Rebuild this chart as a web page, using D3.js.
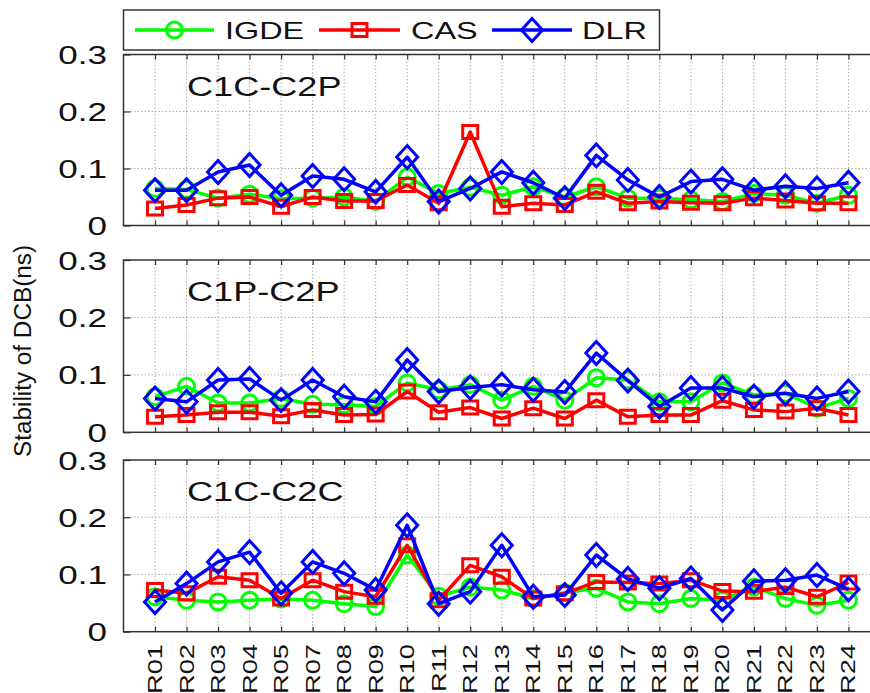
<!DOCTYPE html>
<html>
<head>
<meta charset="utf-8">
<script src="https://cdn.jsdelivr.net/npm/d3@7"></script>
<style>
html,body{margin:0;padding:0;background:#fff;}
svg{display:block;}
text{font-family:"Liberation Sans",Arial,Helvetica,sans-serif;fill:#111;}
</style>
</head>
<body>
<svg id="chart" width="870" height="693"></svg>
<script>
// ---------- data ----------
const categories = ["R01","R02","R03","R04","R05","R07","R08","R09","R10","R11","R12",
  "R13","R14","R15","R16","R17","R18","R19","R20","R21","R22","R23","R24"];
const seriesNames = ["IGDE","CAS","DLR"];
const panelNames = ["C1C-C2P","C1P-C2P","C1C-C2C"];
const yTicks = [0, 0.1, 0.2, 0.3];
const yTickLabels = ["0","0.1","0.2","0.3"];
const yTitle = "Stability of DCB(ns)";

// C1C-C2P
const igde1 = [.065,.063,.048,.055,.047,.048,.050,.042,.085,.056,.067,.053,.068,.050,.068,.048,.048,.045,.042,.056,.053,.039,.053];
const cas1  = [.030,.036,.048,.050,.033,.050,.043,.043,.071,.039,.164,.033,.039,.036,.059,.039,.042,.040,.039,.048,.044,.039,.039];
const dlr1  = [.062,.062,.094,.106,.053,.087,.081,.059,.120,.042,.065,.094,.075,.048,.123,.080,.050,.077,.081,.062,.069,.065,.075];
// C1P-C2P
const igde2 = [.062,.080,.051,.051,.059,.049,.048,.045,.086,.074,.083,.056,.080,.056,.095,.091,.053,.053,.086,.065,.068,.042,.059];
const cas2  = [.027,.030,.035,.035,.028,.039,.030,.031,.071,.035,.043,.024,.042,.024,.056,.027,.030,.030,.055,.039,.036,.042,.030];
const dlr2  = [.059,.053,.091,.093,.056,.091,.062,.053,.126,.071,.078,.083,.074,.070,.138,.090,.045,.077,.077,.062,.068,.059,.071];
// C1C-C2C
const igde3 = [.061,.055,.052,.055,.057,.055,.049,.044,.134,.062,.078,.073,.058,.068,.076,.052,.049,.058,.055,.078,.058,.046,.055];
const cas3  = [.073,.067,.096,.090,.058,.090,.070,.061,.151,.055,.116,.096,.058,.067,.087,.086,.084,.090,.071,.070,.078,.061,.086];
const dlr3  = [.052,.084,.122,.139,.067,.122,.102,.073,.186,.049,.070,.151,.061,.064,.134,.092,.076,.093,.038,.088,.090,.099,.074];

const panelData = [[igde1,cas1,dlr1],[igde2,cas2,dlr2],[igde3,cas3,dlr3]];

// ---------- layout / style ----------
const colors = ["#00ff00","#ff0000","#0000ff"];
const markers = ["circle","square","diamond"];
const panels = [{top:54.5,bottom:225.5},{top:260,bottom:432.3},{top:460,bottom:631.7}];
const plotLeft = 123.5, plotRight = 880;

const svg = d3.select("#chart");
const x = d3.scalePoint().domain(categories).range([plotLeft, plotRight]).padding(1);

function markerPath(type){
  if(type==="circle") return d3.arc()({innerRadius:0,outerRadius:8,startAngle:0,endAngle:2*Math.PI});
  if(type==="square") return "M-7.5,-6.5L7.5,-6.5L7.5,6.5L-7.5,6.5Z";
  return "M0,-11.5L10.5,0L0,11.5L-10.5,0Z";
}

panels.forEach((p,pi)=>{
  const y = d3.scaleLinear().domain([0,0.3]).range([p.bottom,p.top]);
  const g = svg.append("g");

  // grid lines
  g.append("g").selectAll("line.vg").data(categories).join("line")
    .attr("x1",d=>x(d)).attr("x2",d=>x(d)).attr("y1",p.top).attr("y2",p.bottom)
    .attr("stroke","#b0b0b0").attr("stroke-width",1).attr("stroke-dasharray","1.5,2");
  g.append("g").selectAll("line.hg").data([0.1,0.2]).join("line")
    .attr("x1",plotLeft).attr("x2",plotRight).attr("y1",d=>y(d)).attr("y2",d=>y(d))
    .attr("stroke","#b0b0b0").attr("stroke-width",1).attr("stroke-dasharray","1.5,2");

  // axes (inward ticks)
  const yAxis = g.append("g").attr("transform",`translate(${plotLeft},0)`)
    .call(d3.axisLeft(y).tickValues(yTicks).tickSizeInner(-7).tickSizeOuter(0).tickPadding(16.5)
      .tickFormat((d,i)=>yTickLabels[i]));
  yAxis.select(".domain").remove();
  yAxis.selectAll(".tick line").attr("stroke","#333").attr("stroke-width",1.2);
  yAxis.selectAll(".tick text")
    .attr("x",0).attr("dy","0.36em")
    .attr("transform","translate(-16.5,0) scale(1.4,1)")
    .attr("text-anchor","end")
    .style("font-size","25px").style("font-family","'Liberation Sans',Arial,sans-serif").attr("fill","#222");

  const topAxis = g.append("g").attr("transform",`translate(0,${p.top})`)
    .call(d3.axisTop(x).tickSizeInner(-5).tickSizeOuter(0).tickFormat(""));
  topAxis.select(".domain").remove();
  topAxis.selectAll(".tick line").attr("stroke","#333").attr("stroke-width",1.2);

  const botAxis = g.append("g").attr("transform",`translate(0,${p.bottom})`)
    .call(d3.axisBottom(x).tickSizeInner(-5).tickSizeOuter(0));
  botAxis.select(".domain").remove();
  botAxis.selectAll(".tick line").attr("stroke","#333").attr("stroke-width",1.2);
  if(pi===2){
    botAxis.selectAll(".tick text")
      .attr("x",0).attr("y",0).attr("dy",0)
      .attr("text-anchor","end")
      .attr("transform",`translate(6.5,${644-p.bottom}) rotate(-90) scale(1.3,1)`)
      .style("font-size","21px").style("font-family","'Liberation Sans',Arial,sans-serif").attr("fill","#111");
  } else {
    botAxis.selectAll(".tick text").remove();
  }

  // frame
  g.append("rect").attr("x",plotLeft).attr("y",p.top)
    .attr("width",plotRight-plotLeft).attr("height",p.bottom-p.top)
    .attr("fill","none").attr("stroke","#333").attr("stroke-width",1.5);

  // panel label
  g.append("text").text(panelNames[pi])
    .attr("transform",`translate(187,${p.top+41}) scale(1.29,1)`)
    .style("font-size","28px");

  // series
  panelData[pi].forEach((vals,si)=>{
    const pts = categories.map((c,i)=>[x(c), y(vals[i])]);
    g.append("path").attr("d",d3.line()(pts))
      .attr("fill","none").attr("stroke",colors[si]).attr("stroke-width",3.5)
      .attr("stroke-linejoin","round");
    g.append("g").selectAll("path").data(pts).join("path")
      .attr("d",markerPath(markers[si]))
      .attr("transform",d=>`translate(${d[0]},${d[1]})`)
      .attr("fill","none").attr("stroke",colors[si]).attr("stroke-width",3);
  });
});

// y title
svg.append("text").text(yTitle)
  .attr("transform","translate(31,351) rotate(-90)")
  .attr("text-anchor","middle")
  .attr("textLength",212).attr("lengthAdjust","spacingAndGlyphs")
  .style("font-size","23px");

// legend
const lg = svg.append("g");
lg.append("rect").attr("x",123.5).attr("y",10).attr("width",536).attr("height",40)
  .attr("fill","#fff").attr("stroke","#333").attr("stroke-width",1.5);
const legendItems = [
  {lx1:135,lx2:214,tx:225},
  {lx1:319,lx2:400,tx:411},
  {lx1:492,lx2:572,tx:582}
];
seriesNames.forEach((name,i)=>{
  const it = legendItems[i];
  lg.append("line").attr("x1",it.lx1).attr("x2",it.lx2).attr("y1",30).attr("y2",30)
    .attr("stroke",colors[i]).attr("stroke-width",3.5);
  lg.append("path").attr("d",markerPath(markers[i]))
    .attr("transform",`translate(${(it.lx1+it.lx2)/2},30)`)
    .attr("fill","none").attr("stroke",colors[i]).attr("stroke-width",3);
  lg.append("text").text(name)
    .attr("transform",`translate(${it.tx},38.5) scale(1.35,1)`)
    .style("font-size","24px");
});
</script>
</body>
</html>
